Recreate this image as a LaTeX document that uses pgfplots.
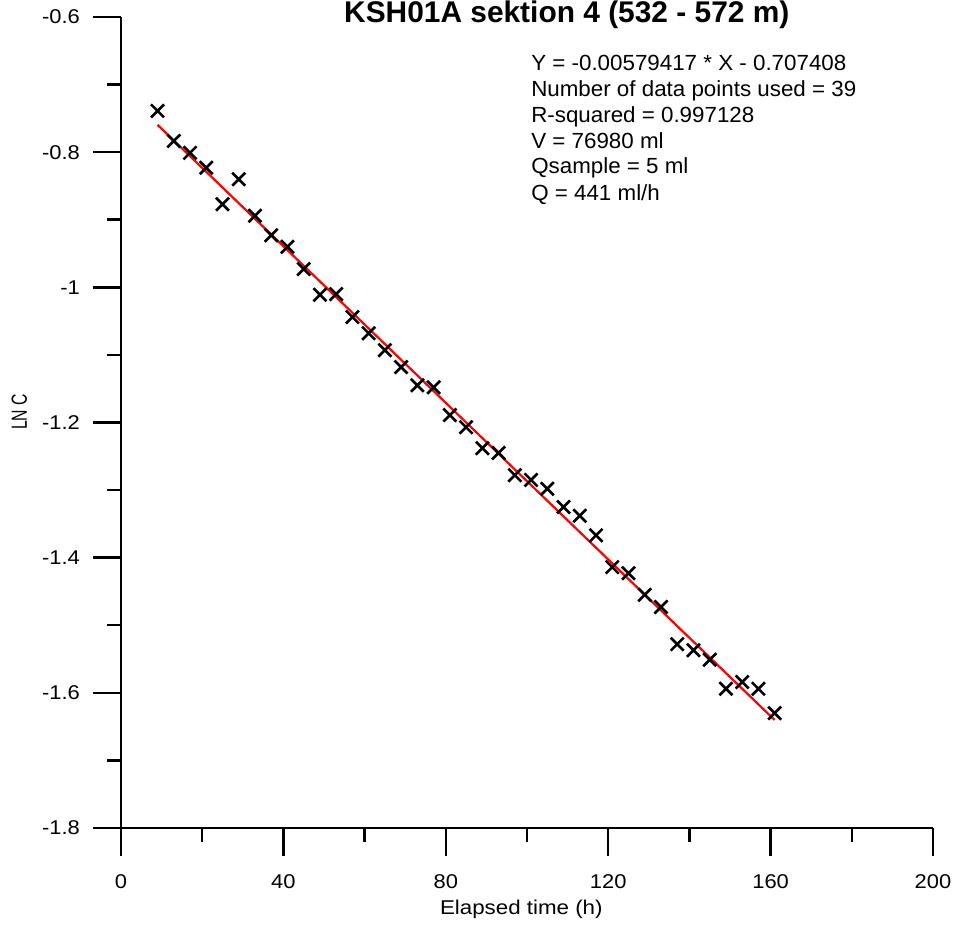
\documentclass[border=0pt]{standalone}
\usepackage{pgfplots}
\pgfplotsset{compat=1.18}
\usepackage{pgfplotstable}
\usepackage{fontspec}
\setmainfont{Liberation Sans}
\newfontfamily\tickfont[FakeStretch=1.1]{Liberation Sans}
\newfontfamily\labfont[FakeStretch=1.12]{Liberation Sans}
\newfontfamily\notefont[FakeStretch=1.02]{Liberation Sans}
\newfontfamily\ylabfont[FakeStretch=0.72]{Liberation Sans}
\newcommand\fs[1]{\fontsize{#1}{#1}\selectfont}

% Elapsed time (h) and LN C of the sampled tracer concentration
\pgfplotstableread{
t   lnc
9   -0.739
13  -0.7835
17  -0.801
21  -0.823
25  -0.877
29  -0.840
33  -0.894
37  -0.923
41  -0.940
45  -0.973
49  -1.011
53  -1.010
57  -1.044
61  -1.068
65  -1.093
69  -1.118
73  -1.145
77  -1.148
81  -1.189
85  -1.207
89  -1.238
93  -1.245
97  -1.278
101 -1.285
105 -1.298
109 -1.325
113 -1.338
117 -1.367
121 -1.414
125 -1.423
129 -1.455
133 -1.473
137 -1.528
141 -1.537
145 -1.551
149 -1.594
153 -1.584
157 -1.594
161 -1.630
}\measured

\begin{document}
\begin{tikzpicture}[x=1bp,y=1bp]
\useasboundingbox (0,0) rectangle (955,925);
\begin{axis}[
  at={(121bp,97bp)}, anchor=south west,
  scale only axis, width=812bp, height=811bp,
  xmin=0, xmax=200, ymin=-1.8, ymax=-0.6,
  clip=false,
  axis x line*=bottom, axis y line*=left,
  axis line style={-, black, line width=2.7bp},
  tick align=outside,
  major tick length=28bp, minor tick length=14bp,
  major tick style={black, line width=2.5bp},
  minor tick style={black, line width=2.5bp},
  xtick={0,40,80,120,160,200},
  xticklabels={0,40,80,120,160,200},
  minor xtick={20,60,100,140,180},
  ytick={-1.8,-1.6,-1.4,-1.2,-1,-0.8,-0.6},
  yticklabels={-1.8,-1.6,-1.4,-1.2,-1,-0.8,-0.6},
  minor ytick={-1.7,-1.5,-1.3,-1.1,-0.9,-0.7},
  xticklabel style={font=\tickfont\fs{20}, anchor=north, inner sep=0pt, yshift=-18bp},
  yticklabel style={font=\tickfont\fs{20}, anchor=east, inner sep=0pt, xshift=-13bp},
  xlabel={Elapsed time (h)},
  xlabel style={at={(axis description cs:0.493,-0.107)}, anchor=base,
    font=\labfont\fs{20}, inner sep=0pt},
  ylabel={LN C},
  ylabel style={at={(axis description cs:-0.1158,0.513)}, anchor=base,
    font=\ylabfont\fs{22}, inner sep=0pt},
  title={KSH01A sektion 4 (532 - 572 m)},
  title style={at={(axis description cs:0.549,0.986)}, anchor=base,
    font=\bfseries\fs{30}, inner sep=0pt},
]
% least-squares fit line
\addplot[red, line width=2.2bp] coordinates {(9,-0.759556) (161,-1.640269)};
% measured values
\addplot[only marks, mark=x, mark size=9.2bp,
  mark options={black, line width=2.6bp}] table[x=t, y=lnc] {\measured};

\begin{scope}[every node/.style={anchor=base west, inner sep=0pt, font=\notefont\fs{22}}]
\node at (axis description cs:0.505,0.9346) {Y = -0.00579417 * X - 0.707408};
\node at (axis description cs:0.505,0.9025) {Number of data points used = 39};
\node at (axis description cs:0.505,0.8705) {R-squared = 0.997128};
\node at (axis description cs:0.505,0.8384) {V = 76980 ml};
\node at (axis description cs:0.505,0.8064) {Qsample = 5 ml};
\node at (axis description cs:0.505,0.7743) {Q = 441 ml/h};
\end{scope}
\end{axis}
\end{tikzpicture}
\end{document}
